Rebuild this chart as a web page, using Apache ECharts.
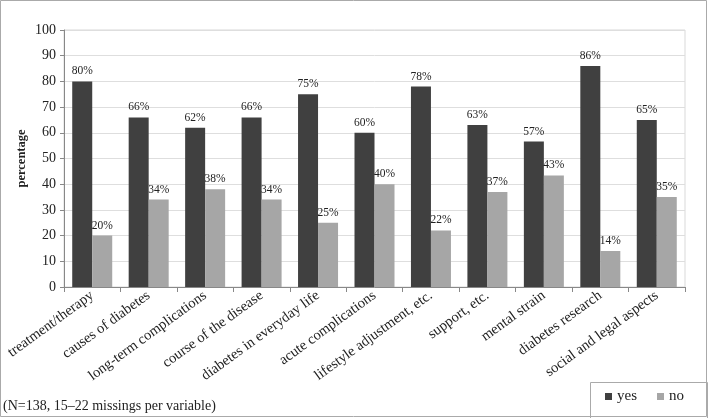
<!DOCTYPE html>
<html><head><meta charset="utf-8">
<script src="https://cdn.jsdelivr.net/npm/echarts@6/dist/echarts.min.js"></script>
<style>html,body{margin:0;padding:0;background:#fff}#c{width:708px;height:418px}</style>
</head><body><div id="c"></div>
<script>
const categories = ["treatment/therapy","causes of diabetes","long-term complications","course of the disease","diabetes in everyday life","acute complications","lifestyle adjustment, etc.","support, etc.","mental strain","diabetes research","social and legal aspects"];
const yesValues = [80,66,62,66,75,60,78,63,56.6,86,65];
const noValues = [20,34,38,34,25,40,22,37,43.4,14,35];
const yTicks = [0,10,20,30,40,50,60,70,80,90,100];
const font = '"Liberation Serif", "Times New Roman", serif';
const chart = echarts.init(document.getElementById('c'), null, {renderer:'canvas'});
const lbl = {show:true, position:'top', distance:4, fontFamily:font, fontSize:11.5, color:'#222', formatter: p => Math.round(p.value) + '%'};
chart.setOption({
  animation:false,
  textStyle:{fontFamily:font},
  grid:{left:64, right:23, top:30, bottom:131, show:true, borderColor:'#d9d9d9', borderWidth:1},
  legend:{right:19, bottom:9, itemWidth:7, itemHeight:7, itemGap:20, textStyle:{fontFamily:font, fontSize:15, color:'#222'}, icon:'rect', data:['yes','no']},
  xAxis:{type:'category', data:categories,
    axisLine:{lineStyle:{color:'#888'}},
    axisTick:{show:true, alignWithLabel:false, length:5, lineStyle:{color:'#888'}},
    axisLabel:{rotate:36, interval:0, fontFamily:font, fontSize:14.5, color:'#222', margin:7}},
  yAxis:{type:'value', min:0, max:100, interval:10,
    name:'percentage', nameLocation:'middle', nameGap:36, nameRotate:90, nameMoveOverlap:false,
    nameTextStyle:{fontFamily:font, fontSize:12.5, fontWeight:'bold', color:'#222'},
    axisLine:{show:true, lineStyle:{color:'#888'}},
    axisTick:{show:true, length:4, lineStyle:{color:'#888'}},
    axisLabel:{fontFamily:font, fontSize:14, color:'#222', margin:8, formatter: v => yTicks.includes(v) ? String(v) : ''},
    splitLine:{lineStyle:{color:'#dedede'}}},
  series:[
    {name:'yes', type:'bar', data:yesValues, barWidth:20, barGap:'0%', itemStyle:{color:'#404040'}, label:lbl},
    {name:'no', type:'bar', data:noValues, barWidth:20, itemStyle:{color:'#a6a6a6'}, label:lbl}
  ],
  graphic:[
    {type:'rect', shape:{x:0.5, y:0.5, width:706, height:416}, style:{fill:'none', stroke:'#aaa', lineWidth:1}, silent:true},
    {type:'rect', shape:{x:590.5, y:382.5, width:117, height:36}, style:{fill:'none', stroke:'#aaa', lineWidth:1}, silent:true},
    {type:'text', left:3, top:399, style:{text:'(N=138, 15–22 missings per variable)', fontFamily:font, fontSize:14, fill:'#222'}}
  ]
});
</script></body></html>
